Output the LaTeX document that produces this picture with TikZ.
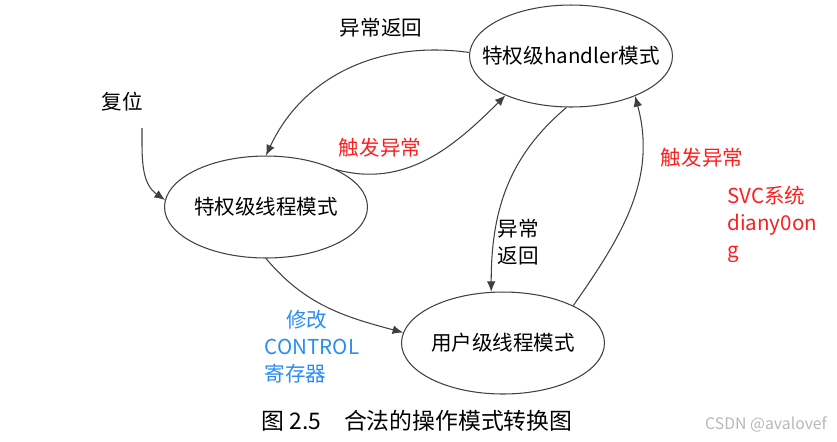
\documentclass[tikz,border=0pt]{standalone}
\usepackage{fontspec}
\setmainfont{Noto Sans CJK SC}
\usepackage{xcolor}
\usepackage{tikz}
\usetikzlibrary{arrows.meta,shapes.geometric}
\newcommand{\modearrow}{-{Latex[length=6pt,width=5pt]}}
\definecolor{labred}{RGB}{255,30,30}
\definecolor{labblue}{RGB}{40,140,245}

\begin{document}
\begin{tikzpicture}[x=0.02cm,y=0.02cm,font=\fontsize{11.7}{15.3}\selectfont,line width=0.6pt,
	mode/.style={draw=black!75,ellipse,minimum width=4.06cm,minimum height=2.04cm,inner xsep=-10pt,inner ysep=0pt},
	line/.style={draw=black!75}]
					\useasboundingbox (0,0) rectangle (837,-441);
					\node[mode] (h) at (571,-56) {特权级handler模式};
					\node[mode] (t) at (266,-207) {特权级线程模式};
					\node[mode] (u) at (503,-343) {用户级线程模式};
					\node (r) at (122,-102) {复位};
					\coordinate (r0) at (142,-128);
					\node (l1) at (381,-28) {异常返回};
					\node[text=labred] (l2) at (380,-148) {触发异常};
					\node[text=labred] (l3) at (702,-158) {触发异常};
					\node[text=labred,align=left,anchor=north west] (l4) at (721,-180) {SVC系统\\diany0on\\g};
					\node[align=left] (l5) at (518,-242) {异常\\返回};
					\node[text=labblue,align=left] (l6) at (312,-347) {\hspace{1.05em}修改\\CONTROL\\寄存器};
					\node (cap) at (417,-421) {\fontsize{13}{15}\selectfont 图 2.5\quad 合法的操作模式转换图};
					\node[text=black!28,font=\fontsize{9}{11}\selectfont] (wm) at (766,-424) {CSDN @avalovef};
					\draw[\modearrow,line] (r0) to[out=-90,in=145] (t.176);
					\draw[\modearrow,line] (h.178) to[out=172,in=65] (t.90);
					\draw[\modearrow,line] (t.28) to[out=-15,in=225] (h.211);
					\draw[\modearrow,line] (h.265) to[out=220,in=90] (u.103);
					\draw[\modearrow,line] (u.28) to[out=55,in=-75] (h.-32);
					\draw[\modearrow,line] (t.270) to[out=-50,in=165] (u.174);
				\end{tikzpicture}
\end{document}
